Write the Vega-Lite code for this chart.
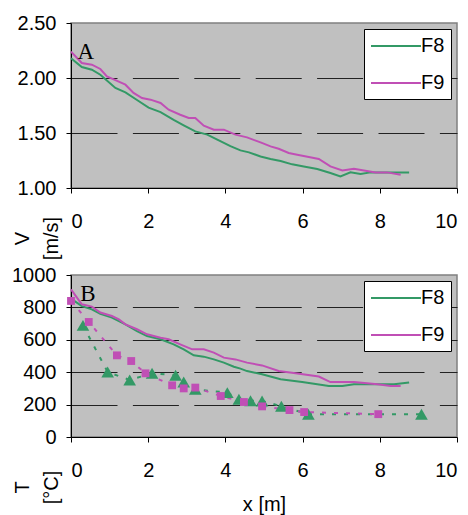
{
  "$schema": "https://vega.github.io/schema/vega-lite/v6.json",
  "padding": {"left": 10, "top": 12, "right": 0, "bottom": 0},
  "background": "white",
  "bounds": "flush",
  "spacing": 87,
  "config": {
    "font": "Liberation Sans",
    "view": {"fill": "#c0c0c0", "stroke": "#808080", "strokeWidth": 1.5},
    "axis": {
      "labelFont": "Liberation Sans", "labelFontSize": 20, "labelColor": "black", "labelOverlap": false,
      "titleFont": "Liberation Sans", "titleFontSize": 20, "titleFontWeight": "normal", "titleColor": "black",
      "domainColor": "black", "domainWidth": 1, "tickColor": "black", "tickSize": 5, "tickWidth": 1
    },
    "legend": {
      "labelFont": "Liberation Sans", "labelFontSize": 20, "labelColor": "black"
    }
  },
  "datasets": {
    "speed": [
      {"x": 0, "V": 2.18, "series": "F8"}, {"x": 0.28, "V": 2.10, "series": "F8"}, {"x": 0.54, "V": 2.075, "series": "F8"},
      {"x": 0.76, "V": 2.03, "series": "F8"}, {"x": 1.15, "V": 1.91, "series": "F8"}, {"x": 1.41, "V": 1.87, "series": "F8"},
      {"x": 1.71, "V": 1.80, "series": "F8"}, {"x": 2.01, "V": 1.73, "series": "F8"}, {"x": 2.32, "V": 1.69, "series": "F8"},
      {"x": 2.66, "V": 1.62, "series": "F8"}, {"x": 2.92, "V": 1.57, "series": "F8"}, {"x": 3.22, "V": 1.515, "series": "F8"},
      {"x": 3.53, "V": 1.485, "series": "F8"}, {"x": 3.79, "V": 1.44, "series": "F8"}, {"x": 4.13, "V": 1.38, "series": "F8"},
      {"x": 4.39, "V": 1.342, "series": "F8"}, {"x": 4.61, "V": 1.324, "series": "F8"}, {"x": 4.91, "V": 1.287, "series": "F8"},
      {"x": 5.17, "V": 1.264, "series": "F8"}, {"x": 5.43, "V": 1.245, "series": "F8"}, {"x": 5.73, "V": 1.215, "series": "F8"},
      {"x": 6.03, "V": 1.196, "series": "F8"}, {"x": 6.38, "V": 1.173, "series": "F8"}, {"x": 6.72, "V": 1.136, "series": "F8"},
      {"x": 6.98, "V": 1.105, "series": "F8"}, {"x": 7.24, "V": 1.142, "series": "F8"}, {"x": 7.5, "V": 1.127, "series": "F8"},
      {"x": 7.76, "V": 1.142, "series": "F8"}, {"x": 7.98, "V": 1.142, "series": "F8"}, {"x": 8.76, "V": 1.142, "series": "F8"},
      {"x": 0, "V": 2.24, "series": "F9"}, {"x": 0.28, "V": 2.136, "series": "F9"}, {"x": 0.54, "V": 2.121, "series": "F9"},
      {"x": 0.76, "V": 2.082, "series": "F9"}, {"x": 0.93, "V": 2.015, "series": "F9"}, {"x": 1.15, "V": 1.98, "series": "F9"},
      {"x": 1.41, "V": 1.939, "series": "F9"}, {"x": 1.62, "V": 1.864, "series": "F9"}, {"x": 1.84, "V": 1.818, "series": "F9"},
      {"x": 2.06, "V": 1.803, "series": "F9"}, {"x": 2.32, "V": 1.773, "series": "F9"}, {"x": 2.53, "V": 1.712, "series": "F9"},
      {"x": 2.83, "V": 1.666, "series": "F9"}, {"x": 3.05, "V": 1.636, "series": "F9"}, {"x": 3.22, "V": 1.636, "series": "F9"},
      {"x": 3.44, "V": 1.566, "series": "F9"}, {"x": 3.7, "V": 1.53, "series": "F9"}, {"x": 3.96, "V": 1.53, "series": "F9"},
      {"x": 4.26, "V": 1.485, "series": "F9"}, {"x": 4.56, "V": 1.46, "series": "F9"}, {"x": 4.91, "V": 1.415, "series": "F9"},
      {"x": 5.17, "V": 1.378, "series": "F9"}, {"x": 5.38, "V": 1.357, "series": "F9"}, {"x": 5.64, "V": 1.318, "series": "F9"},
      {"x": 5.86, "V": 1.303, "series": "F9"}, {"x": 6.16, "V": 1.282, "series": "F9"}, {"x": 6.42, "V": 1.264, "series": "F9"},
      {"x": 6.72, "V": 1.196, "series": "F9"}, {"x": 7.03, "V": 1.16, "series": "F9"}, {"x": 7.33, "V": 1.175, "series": "F9"},
      {"x": 7.59, "V": 1.16, "series": "F9"}, {"x": 7.89, "V": 1.142, "series": "F9"}, {"x": 8.19, "V": 1.142, "series": "F9"},
      {"x": 8.54, "V": 1.121, "series": "F9"}
    ],
    "tempLines": [
      {"x": 0, "T": 854, "series": "F8"}, {"x": 0.28, "T": 808, "series": "F8"}, {"x": 0.54, "T": 788, "series": "F8"},
      {"x": 0.76, "T": 760, "series": "F8"}, {"x": 1.06, "T": 737, "series": "F8"}, {"x": 1.41, "T": 695, "series": "F8"},
      {"x": 1.71, "T": 654, "series": "F8"}, {"x": 1.97, "T": 623, "series": "F8"}, {"x": 2.32, "T": 603, "series": "F8"},
      {"x": 2.66, "T": 572, "series": "F8"}, {"x": 2.92, "T": 541, "series": "F8"}, {"x": 3.18, "T": 504, "series": "F8"},
      {"x": 3.44, "T": 496, "series": "F8"}, {"x": 3.7, "T": 479, "series": "F8"}, {"x": 3.96, "T": 459, "series": "F8"},
      {"x": 4.22, "T": 434, "series": "F8"}, {"x": 4.39, "T": 422, "series": "F8"}, {"x": 4.56, "T": 407, "series": "F8"},
      {"x": 4.95, "T": 387, "series": "F8"}, {"x": 5.43, "T": 356, "series": "F8"}, {"x": 5.99, "T": 339, "series": "F8"},
      {"x": 6.38, "T": 325, "series": "F8"}, {"x": 6.68, "T": 315, "series": "F8"}, {"x": 7.03, "T": 315, "series": "F8"},
      {"x": 7.33, "T": 325, "series": "F8"}, {"x": 7.94, "T": 325, "series": "F8"}, {"x": 8.37, "T": 325, "series": "F8"},
      {"x": 8.76, "T": 336, "series": "F8"},
      {"x": 0, "T": 911, "series": "F9"}, {"x": 0.28, "T": 819, "series": "F9"}, {"x": 0.54, "T": 805, "series": "F9"},
      {"x": 0.76, "T": 768, "series": "F9"}, {"x": 1.06, "T": 747, "series": "F9"}, {"x": 1.24, "T": 726, "series": "F9"},
      {"x": 1.41, "T": 695, "series": "F9"}, {"x": 1.71, "T": 665, "series": "F9"}, {"x": 1.97, "T": 634, "series": "F9"},
      {"x": 2.32, "T": 613, "series": "F9"}, {"x": 2.53, "T": 603, "series": "F9"}, {"x": 2.83, "T": 572, "series": "F9"},
      {"x": 3.14, "T": 541, "series": "F9"}, {"x": 3.44, "T": 541, "series": "F9"}, {"x": 3.7, "T": 521, "series": "F9"},
      {"x": 3.96, "T": 490, "series": "F9"}, {"x": 4.26, "T": 479, "series": "F9"}, {"x": 4.56, "T": 459, "series": "F9"},
      {"x": 4.95, "T": 442, "series": "F9"}, {"x": 5.38, "T": 407, "series": "F9"}, {"x": 5.82, "T": 393, "series": "F9"},
      {"x": 6.42, "T": 373, "series": "F9"}, {"x": 6.72, "T": 339, "series": "F9"}, {"x": 7.33, "T": 339, "series": "F9"},
      {"x": 7.94, "T": 325, "series": "F9"}, {"x": 8.28, "T": 315, "series": "F9"}, {"x": 8.54, "T": 315, "series": "F9"}
    ],
    "tempPoints": [
      {"x": 0.31, "T": 689, "series": "F8"}, {"x": 0.95, "T": 401, "series": "F8"}, {"x": 1.52, "T": 352, "series": "F8"},
      {"x": 2.1, "T": 393, "series": "F8"}, {"x": 2.71, "T": 381, "series": "F8"}, {"x": 2.92, "T": 339, "series": "F8"},
      {"x": 3.22, "T": 294, "series": "F8"}, {"x": 4.05, "T": 274, "series": "F8"}, {"x": 4.35, "T": 233, "series": "F8"},
      {"x": 4.65, "T": 224, "series": "F8"}, {"x": 4.95, "T": 222, "series": "F8"}, {"x": 5.45, "T": 190, "series": "F8"},
      {"x": 6.15, "T": 141, "series": "F8"}, {"x": 9.08, "T": 141, "series": "F8"},
      {"x": 0, "T": 840, "series": "F9"}, {"x": 0.46, "T": 710, "series": "F9"}, {"x": 1.19, "T": 504, "series": "F9"},
      {"x": 1.56, "T": 469, "series": "F9"}, {"x": 1.93, "T": 393, "series": "F9"}, {"x": 2.62, "T": 319, "series": "F9"},
      {"x": 2.92, "T": 300, "series": "F9"}, {"x": 3.22, "T": 305, "series": "F9"}, {"x": 3.88, "T": 253, "series": "F9"},
      {"x": 4.48, "T": 216, "series": "F9"}, {"x": 4.95, "T": 189, "series": "F9"}, {"x": 5.66, "T": 166, "series": "F9"},
      {"x": 6.04, "T": 154, "series": "F9"}, {"x": 7.96, "T": 141, "series": "F9"}
    ],
    "panelA": [{"label": "A", "x": 0.17, "V": 2.17}],
    "panelB": [{"label": "B", "x": 0.24, "T": 837}]
  },
  "resolve": {"scale": {"color": "independent"}, "legend": {"color": "independent"}},
  "vconcat": [
    {
      "width": 386,
      "height": 165,
      "encoding": {
        "x": {"field": "x", "type": "quantitative", "scale": {"domain": [0, 10]},
              "axis": {"values": [0, 2, 4, 6, 8, 10], "format": "d", "grid": false, "title": null, "labelBaseline": "alphabetic", "labelPadding": 34, "labelOverlap": false}},
        "y": {"field": "V", "type": "quantitative", "scale": {"domain": [1, 2.5]},
              "axis": {"values": [1, 1.5, 2, 2.5], "format": ".2f", "labelPadding": 10, "labelOverlap": false, "grid": true,
                       "gridColor": "#222222", "gridDash": [46, 15.4], "gridWidth": 1.2,
                       "gridOpacity": {"condition": {"test": "datum.value >= 2.5 || datum.value <= 1", "value": 0}, "value": 1},
                       "title": ["V", "[m/s]"], "titleAngle": -90, "titleX": -59, "titleY": 215,
                       "titleAlign": "center", "titleBaseline": "top", "titleLineHeight": 29}}
      },
      "layer": [
        {
          "data": {"name": "speed"},
          "mark": {"type": "line", "strokeWidth": 2},
          "encoding": {
            "color": {"field": "series", "type": "nominal",
                      "scale": {"domain": ["F8", "F9"], "range": ["#339966", "#c04fb5"]},
                      "legend": {"title": null, "orient": "top-right", "offset": 6, "fillColor": "white", "strokeColor": "black",
                                 "padding": 6, "symbolType": "M-2.5,0H2.5", "symbolSize": 400, "symbolStrokeWidth": 2,
                                 "symbolOffset": 15, "labelOffset": 14, "rowPadding": 16}}
          }
        },
        {
          "data": {"name": "panelA"},
          "mark": {"type": "text", "font": "Liberation Serif", "fontSize": 23, "align": "left", "baseline": "alphabetic", "color": "black"},
          "encoding": {"text": {"field": "label"}}
        }
      ]
    },
    {
      "width": 386,
      "height": 162,
      "encoding": {
        "x": {"field": "x", "type": "quantitative", "scale": {"domain": [0, 10]},
              "axis": {"values": [0, 2, 4, 6, 8, 10], "format": "d", "grid": false, "title": "x [m]", "labelBaseline": "alphabetic", "labelPadding": 34, "labelOverlap": false,
                       "titleBaseline": "alphabetic", "titleY": 73}},
        "y": {"field": "T", "type": "quantitative", "scale": {"domain": [0, 1000]},
              "axis": {"values": [0, 200, 400, 600, 800, 1000], "format": "d", "labelPadding": 10, "labelOverlap": false, "grid": true,
                       "gridColor": "#222222", "gridDash": [46, 15.4], "gridWidth": 1.2,
                       "gridOpacity": {"condition": {"test": "datum.value >= 1000 || datum.value <= 0", "value": 0}, "value": 1},
                       "title": ["T", "[°C]"], "titleAngle": -90, "titleX": -59, "titleY": 212,
                       "titleAlign": "center", "titleBaseline": "top", "titleLineHeight": 29}}
      },
      "layer": [
        {
          "data": {"name": "tempLines"},
          "mark": {"type": "line", "strokeWidth": 2},
          "encoding": {
            "color": {"field": "series", "type": "nominal",
                      "scale": {"domain": ["F8", "F9"], "range": ["#339966", "#c04fb5"]},
                      "legend": {"title": null, "orient": "top-right", "offset": 6, "fillColor": "white", "strokeColor": "black",
                                 "padding": 6, "symbolType": "M-2.5,0H2.5", "symbolSize": 400, "symbolStrokeWidth": 2,
                                 "symbolOffset": 15, "labelOffset": 14, "rowPadding": 16}}
          }
        },
        {
          "data": {"name": "tempPoints"},
          "mark": {"type": "line", "strokeWidth": 2, "strokeDash": [4, 8]},
          "encoding": {
            "stroke": {"field": "series", "type": "nominal",
                       "scale": {"domain": ["F8", "F9"], "range": ["#339966", "#c04fb5"]}, "legend": null}
          }
        },
        {
          "data": {"name": "tempPoints"},
          "mark": {"type": "point", "filled": true, "opacity": 1, "size": 160},
          "encoding": {
            "fill": {"field": "series", "type": "nominal",
                     "scale": {"domain": ["F8", "F9"], "range": ["#339966", "#c04fb5"]}, "legend": null},
            "shape": {"field": "series", "type": "nominal",
                      "scale": {"domain": ["F8", "F9"], "range": ["triangle-up", "M-0.62,-0.62H0.62V0.62H-0.62Z"]}, "legend": null}
          }
        },
        {
          "data": {"name": "panelB"},
          "mark": {"type": "text", "font": "Liberation Serif", "fontSize": 23, "align": "left", "baseline": "alphabetic", "color": "black"},
          "encoding": {"text": {"field": "label"}}
        }
      ]
    }
  ]
}
